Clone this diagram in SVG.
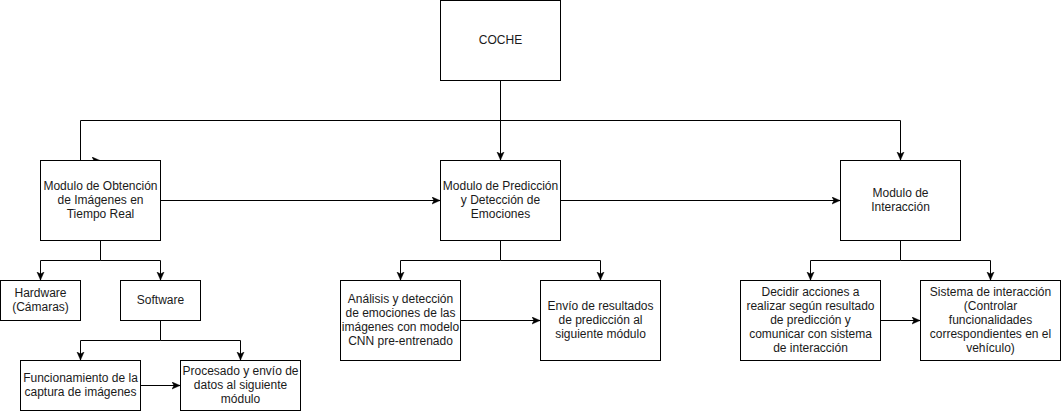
<svg xmlns="http://www.w3.org/2000/svg" width="1061" height="411" viewBox="0 0 1061 411">
<style>
.box{fill:#fff;stroke:#000;stroke-width:1}
.e{fill:none;stroke:#000;stroke-width:1;marker-end:url(#arr)}
.l{fill:none;stroke:#000;stroke-width:1}
text{font-family:"Liberation Sans",Arial,Helvetica,sans-serif;font-size:12px;fill:#1a1a1a;text-anchor:middle}
</style>
<defs>
<marker id="arr" markerUnits="userSpaceOnUse" markerWidth="10" markerHeight="10" viewBox="0 0 10 10" refX="8" refY="4" orient="auto">
<path d="M0,0.5 L8,4 L0,7.5 L2,4 Z" fill="#000" stroke="#000" stroke-width="0.5"/>
</marker>
</defs>
<rect width="1061" height="411" fill="#fff"/>
<g id="connectors">
<path class="e" d="M500.5,80.5 V160"/>
<path class="e" d="M500.5,120.5 H80.5 V160.5 H100"/>
<path class="e" d="M500.5,120.5 H900.5 V160"/>
<path class="e" d="M160.5,200.5 H440"/>
<path class="e" d="M560.5,200.5 H840"/>
<path class="l" d="M100.5,240.5 V260.5"/>
<path class="e" d="M100.5,260.5 H40.5 V280"/>
<path class="e" d="M100.5,260.5 H160.5 V280"/>
<path class="l" d="M160.5,320.5 V340.5"/>
<path class="e" d="M160.5,340.5 H80.5 V360"/>
<path class="e" d="M160.5,340.5 H240.5 V360"/>
<path class="e" d="M140.5,385.5 H180"/>
<path class="l" d="M500.5,240.5 V260.5"/>
<path class="e" d="M500.5,260.5 H400.5 V280"/>
<path class="e" d="M500.5,260.5 H600.5 V280"/>
<path class="e" d="M460.5,320.5 H540"/>
<path class="l" d="M900.5,240.5 V260.5"/>
<path class="e" d="M900.5,260.5 H810.5 V280"/>
<path class="e" d="M900.5,260.5 H990.5 V280"/>
<path class="e" d="M880.5,320.5 H920"/>
</g>
<g id="coche"><rect class="box" x="440.5" y="0.5" width="120" height="80"/><text x="500.5" y="44">COCHE</text></g>
<g id="obtencion"><rect class="box" x="40.5" y="160.5" width="120" height="80"/>
<text x="100.5" y="190">Modulo de Obtención</text><text x="100.5" y="204">de Imágenes en</text><text x="100.5" y="218">Tiempo Real</text></g>
<g id="prediccion"><rect class="box" x="440.5" y="160.5" width="120" height="80"/>
<text x="500.5" y="190">Modulo de Predicción</text><text x="500.5" y="204">y Detección de</text><text x="500.5" y="218">Emociones</text></g>
<g id="interaccion"><rect class="box" x="840.5" y="160.5" width="120" height="80"/>
<text x="900.5" y="197">Modulo de</text><text x="900.5" y="211">Interacción</text></g>
<g id="hardware"><rect class="box" x="0.5" y="280.5" width="80" height="40"/>
<text x="40.5" y="297">Hardware</text><text x="40.5" y="311">(Cámaras)</text></g>
<g id="software"><rect class="box" x="120.5" y="280.5" width="80" height="40"/>
<text x="160.5" y="304">Software</text></g>
<g id="funcionamiento"><rect class="box" x="20.5" y="360.5" width="120" height="50"/>
<text x="80.5" y="382">Funcionamiento de la</text><text x="80.5" y="396">captura de imágenes</text></g>
<g id="procesado"><rect class="box" x="180.5" y="360.5" width="120" height="50"/>
<text x="240.5" y="375">Procesado y envío de</text><text x="240.5" y="389">datos al siguiente</text><text x="240.5" y="403">módulo</text></g>
<g id="analisis"><rect class="box" x="340.5" y="280.5" width="120" height="80"/>
<text x="400.5" y="303">Análisis y detección</text><text x="400.5" y="317">de emociones de las</text><text x="400.5" y="331">imágenes con modelo</text><text x="400.5" y="345">CNN pre-entrenado</text></g>
<g id="envio"><rect class="box" x="540.5" y="280.5" width="120" height="80"/>
<text x="600.5" y="310">Envío de resultados</text><text x="600.5" y="324">de predicción al</text><text x="600.5" y="338">siguiente módulo</text></g>
<g id="decidir"><rect class="box" x="740.5" y="280.5" width="140" height="80"/>
<text x="810.5" y="296">Decidir acciones a</text><text x="810.5" y="310">realizar según resultado</text><text x="810.5" y="324">de predicción y</text><text x="810.5" y="338">comunicar con sistema</text><text x="810.5" y="352">de interacción</text></g>
<g id="sistema"><rect class="box" x="920.5" y="280.5" width="140" height="80"/>
<text x="990.5" y="296">Sistema de interacción</text><text x="990.5" y="310">(Controlar</text><text x="990.5" y="324">funcionalidades</text><text x="990.5" y="338">correspondientes en el</text><text x="990.5" y="352">vehículo)</text></g>
</svg>
